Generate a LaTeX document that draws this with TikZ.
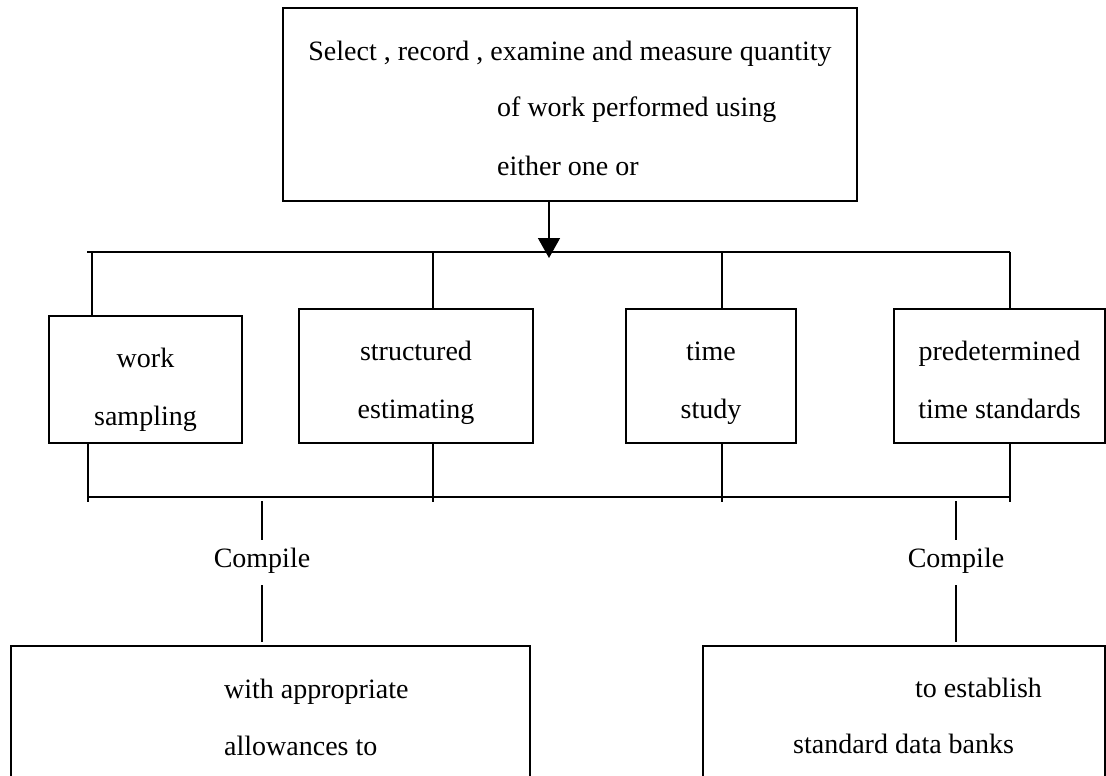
\documentclass[tikz,border=0pt]{standalone}
\usepackage{fontspec}
\setmainfont{Liberation Serif}
\usetikzlibrary{arrows.meta}
\begin{document}
\begin{tikzpicture}[x=1pt,y=-1pt,
  box/.style={draw, line width=1.5pt, inner sep=0pt},
  txt/.style={inner sep=0pt, font=\fontsize{28}{34}\selectfont},
  lbl/.style={inner xsep=0pt, inner ysep=8pt, text height=19pt, text depth=6pt, font=\fontsize{28}{34}\selectfont},
  conn/.style={line width=1.5pt}]
\useasboundingbox (0,0) rectangle (1106,776);
\clip (0,0) rectangle (1106,776);
% top box
\node[box, minimum width=574pt, minimum height=193pt] (top) at (570,104.5) {};
\node[txt, anchor=base] (t1) at (570,61) {Select , record , examine and measure quantity};
\node[txt, anchor=base west] (t2) at (497,117) {of work performed using};
\node[txt, anchor=base west] (t3) at (497,175) {either one or};
% method boxes
\node[box, minimum width=193pt, minimum height=127pt] (b1) at (145.5,379.5) {};
\node[box, minimum width=234pt, minimum height=134pt] (b2) at (416,376) {};
\node[box, minimum width=170pt, minimum height=134pt] (b3) at (711,376) {};
\node[box, minimum width=211pt, minimum height=134pt] (b4) at (999.5,376) {};
\node[txt, anchor=base] at (145.5,367) {work};
\node[txt, anchor=base] at (145.5,425) {sampling};
\node[txt, anchor=base] at (416,360) {structured};
\node[txt, anchor=base] at (416,418) {estimating};
\node[txt, anchor=base] at (711,360) {time};
\node[txt, anchor=base] at (711,418) {study};
\node[txt, anchor=base] at (999.5,360) {predetermined};
\node[txt, anchor=base] at (999.5,418) {time standards};
% bottom boxes
\node[box, minimum width=519pt, minimum height=144pt] (bl) at (270.5,718) {};
\node[box, minimum width=402pt, minimum height=144pt] (br) at (904,718) {};
\node[txt, anchor=base west] at (224,698) {with appropriate};
\node[txt, anchor=base west] at (224,755) {allowances to};
\node[txt, anchor=base west] at (915,697) {to establish};
\node[txt, anchor=base west] at (793,753) {standard data banks};
% compile labels
\node[lbl] (c1) at (262,560.5) {Compile};
\node[lbl] (c2) at (956,560.5) {Compile};
% buses
\coordinate (arr) at (549,258);
\coordinate (busL) at (87,252);
\coordinate (busR) at (1010,252);
\coordinate (x1) at (92,0);
\coordinate (y1) at (88,0);
\coordinate (x2) at (433,0);
\coordinate (x3) at (722,0);
\coordinate (x4) at (1010,0);
\coordinate (lowL) at (88,497);
\coordinate (lowR) at (1010,497);
\draw[conn, -{Triangle[length=20pt,width=22pt]}] (top.south -| arr) -- (arr);
\draw[conn] (busL) -- (busR);
\draw[conn] (x1 |- busL) -- (x1 |- b1.north);
\draw[conn] (x2 |- busL) -- (x2 |- b2.north);
\draw[conn] (x3 |- busL) -- (x3 |- b3.north);
\draw[conn] (x4 |- busL) -- (x4 |- b4.north);
\draw[conn] (lowL) -- (lowR);
\draw[conn] (y1 |- b1.south) -- ([yshift=-5pt]y1 |- lowL);
\draw[conn] (x2 |- b2.south) -- ([yshift=-5pt]x2 |- lowL);
\draw[conn] (x3 |- b3.south) -- ([yshift=-5pt]x3 |- lowL);
\draw[conn] (x4 |- b4.south) -- ([yshift=-5pt]x4 |- lowL);
\draw[conn] ([yshift=-4pt]c1.north |- lowL) -- (c1.north);
\draw[conn] ([yshift=-4pt]c1.south) -- ([yshift=3pt]c1.south |- bl.north);
\draw[conn] ([yshift=-4pt]c2.north |- lowL) -- (c2.north);
\draw[conn] ([yshift=-4pt]c2.south) -- ([yshift=3pt]c2.south |- br.north);
\end{tikzpicture}
\end{document}
